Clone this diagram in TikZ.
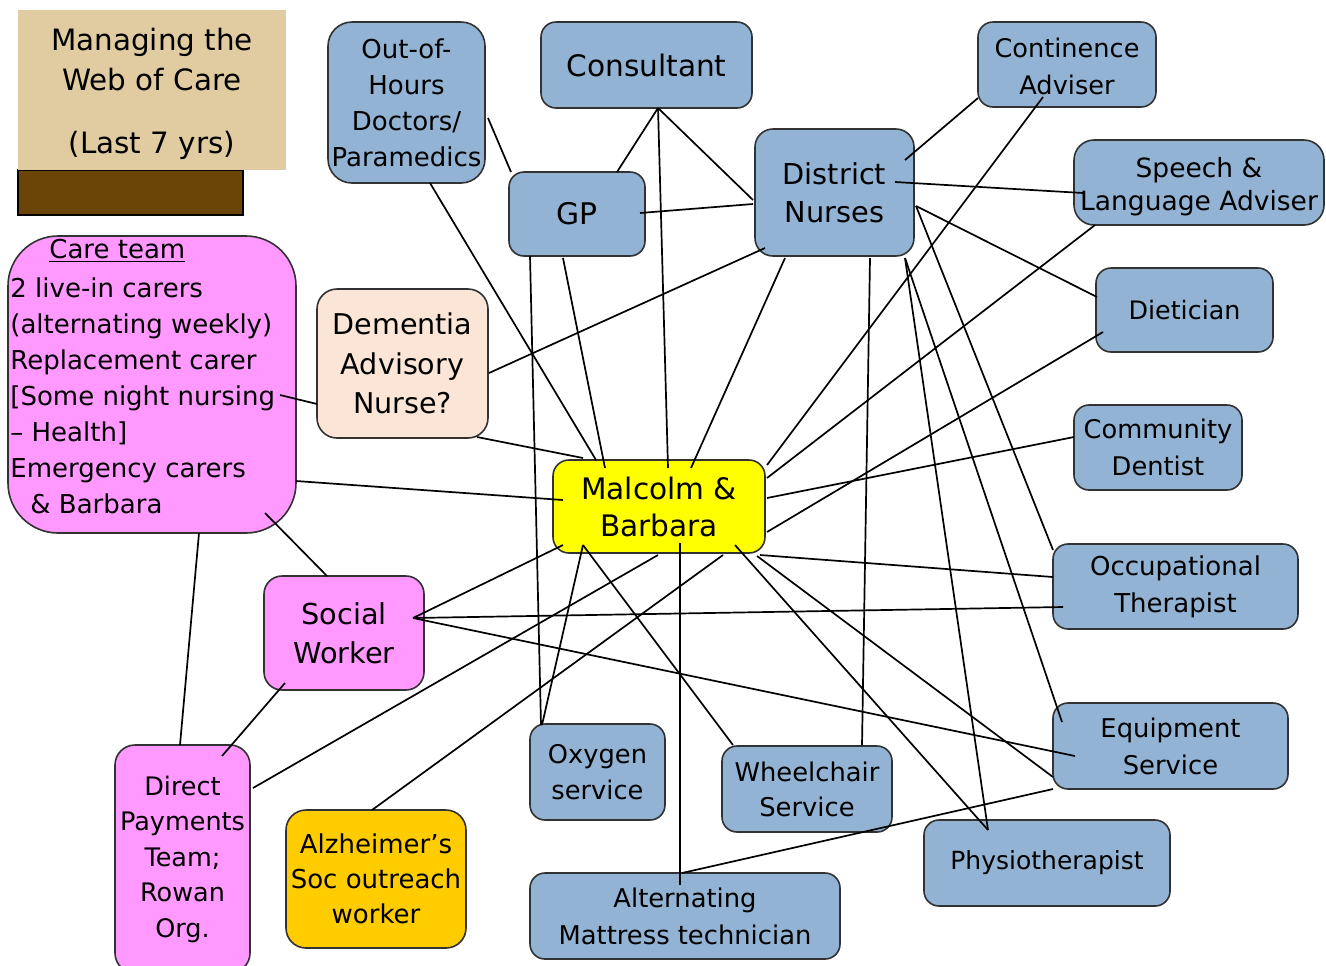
\documentclass[tikz,border=0pt]{standalone}
\usepackage{fontspec}
\setmainfont{DejaVu Sans}
\usetikzlibrary{calc}
\definecolor{bluebox}{RGB}{147,179,212}
\definecolor{pinkbox}{RGB}{255,153,255}
\definecolor{yellowbox}{RGB}{255,255,0}
\definecolor{goldbox}{RGB}{255,204,0}
\definecolor{peachbox}{RGB}{251,229,214}
\definecolor{tanbox}{RGB}{224,204,160}
\definecolor{brownbox}{RGB}{107,68,8}
\definecolor{edgecol}{RGB}{50,50,50}
\newcommand{\fsz}[2]{\fontsize{#1pt}{#2pt}\selectfont}
\begin{document}
\begin{tikzpicture}[x=0.5pt,y=-0.5pt,
  card/.style={draw=edgecol, line width=0.8pt, rounded corners=7.5pt, inner sep=0pt, align=center},
  bluecard/.style={card, fill=bluebox},
  pinkcard/.style={card, fill=pinkbox},
  link/.style={draw=black, line width=0.85pt}]
\useasboundingbox (0,0) rectangle (1326,965);

% title block
\node[fill=brownbox, draw=black, line width=0.8pt, minimum width=112.5pt, minimum height=22.5pt, inner sep=0pt] (bar) at (130.5,192.5) {};
\node[fill=tanbox, minimum width=134pt, minimum height=80pt, inner sep=0pt, align=center, font=\fsz{14.7}{20}] (title) at (152,90) {\rule{0pt}{15.2pt}Managing the\\Web of Care\\[11.5pt](Last 7 yrs)};

% nodes
\node[bluecard, rounded corners=12pt, minimum width=78.5pt, minimum height=80.5pt, font=\fsz{13}{18}] (ooh) at (406.5,102.5) {Out-of-\\Hours\\Doctors/\\Paramedics};
\node[bluecard, minimum width=105.5pt, minimum height=43pt, font=\fsz{14.8}{19}] (cons) at (646.5,65) {Consultant};
\node[bluecard, minimum width=68pt, minimum height=42pt, font=\fsz{14.9}{19}] (gp) at (577,214) {GP};
\node[bluecard, rounded corners=9pt, minimum width=79.5pt, minimum height=63.5pt, font=\fsz{14.4}{19}] (dn) at (834.5,192.5) {District\\Nurses};
\node[bluecard, minimum width=89pt, minimum height=42.5pt, font=\fsz{12.8}{18.5}] (cont) at (1067,64.5) {\rule{0pt}{12pt}Continence\\Adviser};
\node[bluecard, rounded corners=10pt, minimum width=125pt, minimum height=42.5pt, font=\fsz{13.25}{16.5}] (speech) at (1199,182.5) {\rule{0pt}{14pt}Speech \&\\Language Adviser};
\node[bluecard, minimum width=88.5pt, minimum height=42pt, font=\fsz{12.7}{18}] (diet) at (1184.5,310) {Dietician};
\node[bluecard, minimum width=84pt, minimum height=42.5pt, font=\fsz{12.85}{18.5}] (dent) at (1158,447.5) {Community\\Dentist};
\node[bluecard, minimum width=122.5pt, minimum height=42.5pt, font=\fsz{13}{18.5}] (occ) at (1175.5,586.5) {Occupational\\Therapist};
\node[bluecard, minimum width=117.5pt, minimum height=43pt, font=\fsz{12.9}{18.5}] (equip) at (1170.5,746) {Equipment\\Service};
\node[bluecard, minimum width=123pt, minimum height=43pt, font=\fsz{12.5}{18}] (physio) at (1047,863) {Physiotherapist};
\node[bluecard, minimum width=155pt, minimum height=43pt, font=\fsz{12.9}{18.5}] (matt) at (685,916) {Alternating\\Mattress technician};
\node[bluecard, minimum width=85pt, minimum height=43pt, font=\fsz{12.9}{17.5}] (wheel) at (807,789) {Wheelchair\\Service};
\node[bluecard, minimum width=67.5pt, minimum height=48pt, font=\fsz{12.85}{18}] (oxy) at (597.5,772) {Oxygen\\service};
\node[card, fill=goldbox, rounded corners=10pt, minimum width=90pt, minimum height=69pt, font=\fsz{13}{17.5}] (alz) at (376,879) {Alzheimer’s\\Soc outreach\\worker};
\node[pinkcard, rounded corners=10pt, minimum width=67.5pt, minimum height=114pt, font=\fsz{12.75}{17.75}] (dp) at (182.5,859) {Direct\\Payments\\Team;\\Rowan\\Org.};
\node[pinkcard, rounded corners=9pt, minimum width=80pt, minimum height=57pt, font=\fsz{14.4}{19.5}] (social) at (344,633) {Social\\Worker};
\node[pinkcard, rounded corners=25pt, minimum width=144pt, minimum height=148.5pt] (care) at (152,384.5) {};
\node[anchor=north west, inner sep=0pt, align=left, font=\fsz{13}{18}] (caretxt) at (10,239) {\hspace{19.5pt}\underline{Care team}\\[1.5pt]2 live-in carers\\(alternating weekly)\\Replacement carer\\{[}Some night nursing\\– Health]\\Emergency carers\\\hspace{10pt}\& Barbara};
\node[card, fill=peachbox, rounded corners=10pt, minimum width=85.5pt, minimum height=74.5pt, font=\fsz{14.3}{19.75}] (dem) at (402.5,363.5) {Dementia\\Advisory\\Nurse?};
\node[card, fill=yellowbox, rounded corners=8pt, minimum width=106pt, minimum height=46.5pt, font=\fsz{14.8}{18.5}] (mb) at (659,506.5) {Malcolm \&\\Barbara};

% connectors
\draw[link] ($(cons.center)+(11.5,43)$) -- ($(gp.center)+(40,-42)$);
\draw[link] ($(cons.center)+(11.5,43)$) -- ($(mb.center)+(9,-38.5)$);
\draw[link] ($(cons.center)+(11.5,43)$) -- ($(dn.center)+(-81.5,7.5)$);
\draw[link] ($(ooh.center)+(81.5,15.5)$) -- ($(gp.center)+(-66,-42)$);
\draw[link] ($(ooh.center)+(23.5,80.5)$) -- ($(mb.center)+(-63,-46.5)$);
\draw[link] ($(gp.center)+(63,-1)$) -- ($(dn.center)+(-81.5,11.5)$);
\draw[link] ($(gp.center)+(-47,42)$) -- ($(oxy.center)+(-56.5,-47)$);
\draw[link] ($(gp.center)+(-14,44)$) -- ($(mb.center)+(-54,-38.5)$);
\draw[link] ($(dn.center)+(-69.5,55.5)$) -- ($(dem.center)+(86.5,9.5)$);
\draw[link] ($(dn.center)+(-49.5,65.5)$) -- ($(mb.center)+(32,-38.5)$);
\draw[link] ($(dn.center)+(35.5,65.5)$) -- ($(wheel.center)+(55,-44)$);
\draw[link] ($(dn.center)+(70.5,-32.5)$) -- ($(cont.center)+(-89,33.5)$);
\draw[link] ($(dn.center)+(60.5,-10.5)$) -- ($(speech.center)+(-116,10.5)$);
\draw[link] ($(dn.center)+(81.5,13.5)$) -- ($(diet.center)+(-87.5,-13)$);
\draw[link] ($(dn.center)+(70.5,65.5)$) -- ($(physio.center)+(-59,-33)$);
\draw[link] ($(dn.center)+(70.5,65.5)$) -- ($(equip.center)+(-108.5,-24)$);
\draw[link] ($(dn.center)+(81.5,13.5)$) -- ($(occ.center)+(-122.5,-36.5)$);
\draw[link] ($(cont.center)+(-24,32.5)$) -- ($(mb.center)+(108,-41.5)$);
\draw[link] ($(speech.center)+(-104,42.5)$) -- ($(mb.center)+(108,-28.5)$);
\draw[link] ($(diet.center)+(-81.5,22)$) -- ($(mb.center)+(108,25.5)$);
\draw[link] ($(dent.center)+(-84,-10.5)$) -- ($(mb.center)+(108,-8.5)$);
\draw[link] ($(mb.center)+(101,48.5)$) -- ($(occ.center)+(-122.5,-9.5)$);
\draw[link] ($(social.center)+(69,-15)$) -- ($(occ.center)+(-112.5,20.5)$);
\draw[link] ($(social.center)+(69,-15)$) -- ($(equip.center)+(-95.5,10)$);
\draw[link] ($(social.center)+(69,-15)$) -- ($(mb.center)+(-96,38.5)$);
\draw[link] ($(mb.center)+(76,38.5)$) -- ($(physio.center)+(-59,-33)$);
\draw[link] ($(mb.center)+(98,49.5)$) -- ($(equip.center)+(-117.5,31)$);
\draw[link] ($(equip.center)+(-117.5,43)$) -- ($(matt.center)+(-3,-43)$);
\draw[link] ($(mb.center)+(21,36.5)$) -- ($(matt.center)+(-5,-31)$);
\draw[link] ($(mb.center)+(-76,38.5)$) -- ($(wheel.center)+(-74,-44)$);
\draw[link] ($(mb.center)+(-76,38.5)$) -- ($(oxy.center)+(-55.5,-47)$);
\draw[link] ($(mb.center)+(-1,48.5)$) -- ($(dp.center)+(70.5,-71)$);
\draw[link] ($(mb.center)+(64,48.5)$) -- ($(alz.center)+(-4,-69)$);
\draw[link] ($(care.center)+(144,96.5)$) -- ($(mb.center)+(-96,-6.5)$);
\draw[link] ($(care.center)+(113,128.5)$) -- ($(social.center)+(-17,-57)$);
\draw[link] ($(care.center)+(47,148.5)$) -- ($(dp.center)+(-2.5,-114)$);
\draw[link] ($(care.center)+(128,10.5)$) -- ($(dem.center)+(-85.5,40.5)$);
\draw[link] ($(dem.center)+(74.5,73.5)$) -- ($(mb.center)+(-76,-48.5)$);
\draw[link] ($(social.center)+(-59,50)$) -- ($(dp.center)+(39.5,-103)$);
\end{tikzpicture}
\end{document}
